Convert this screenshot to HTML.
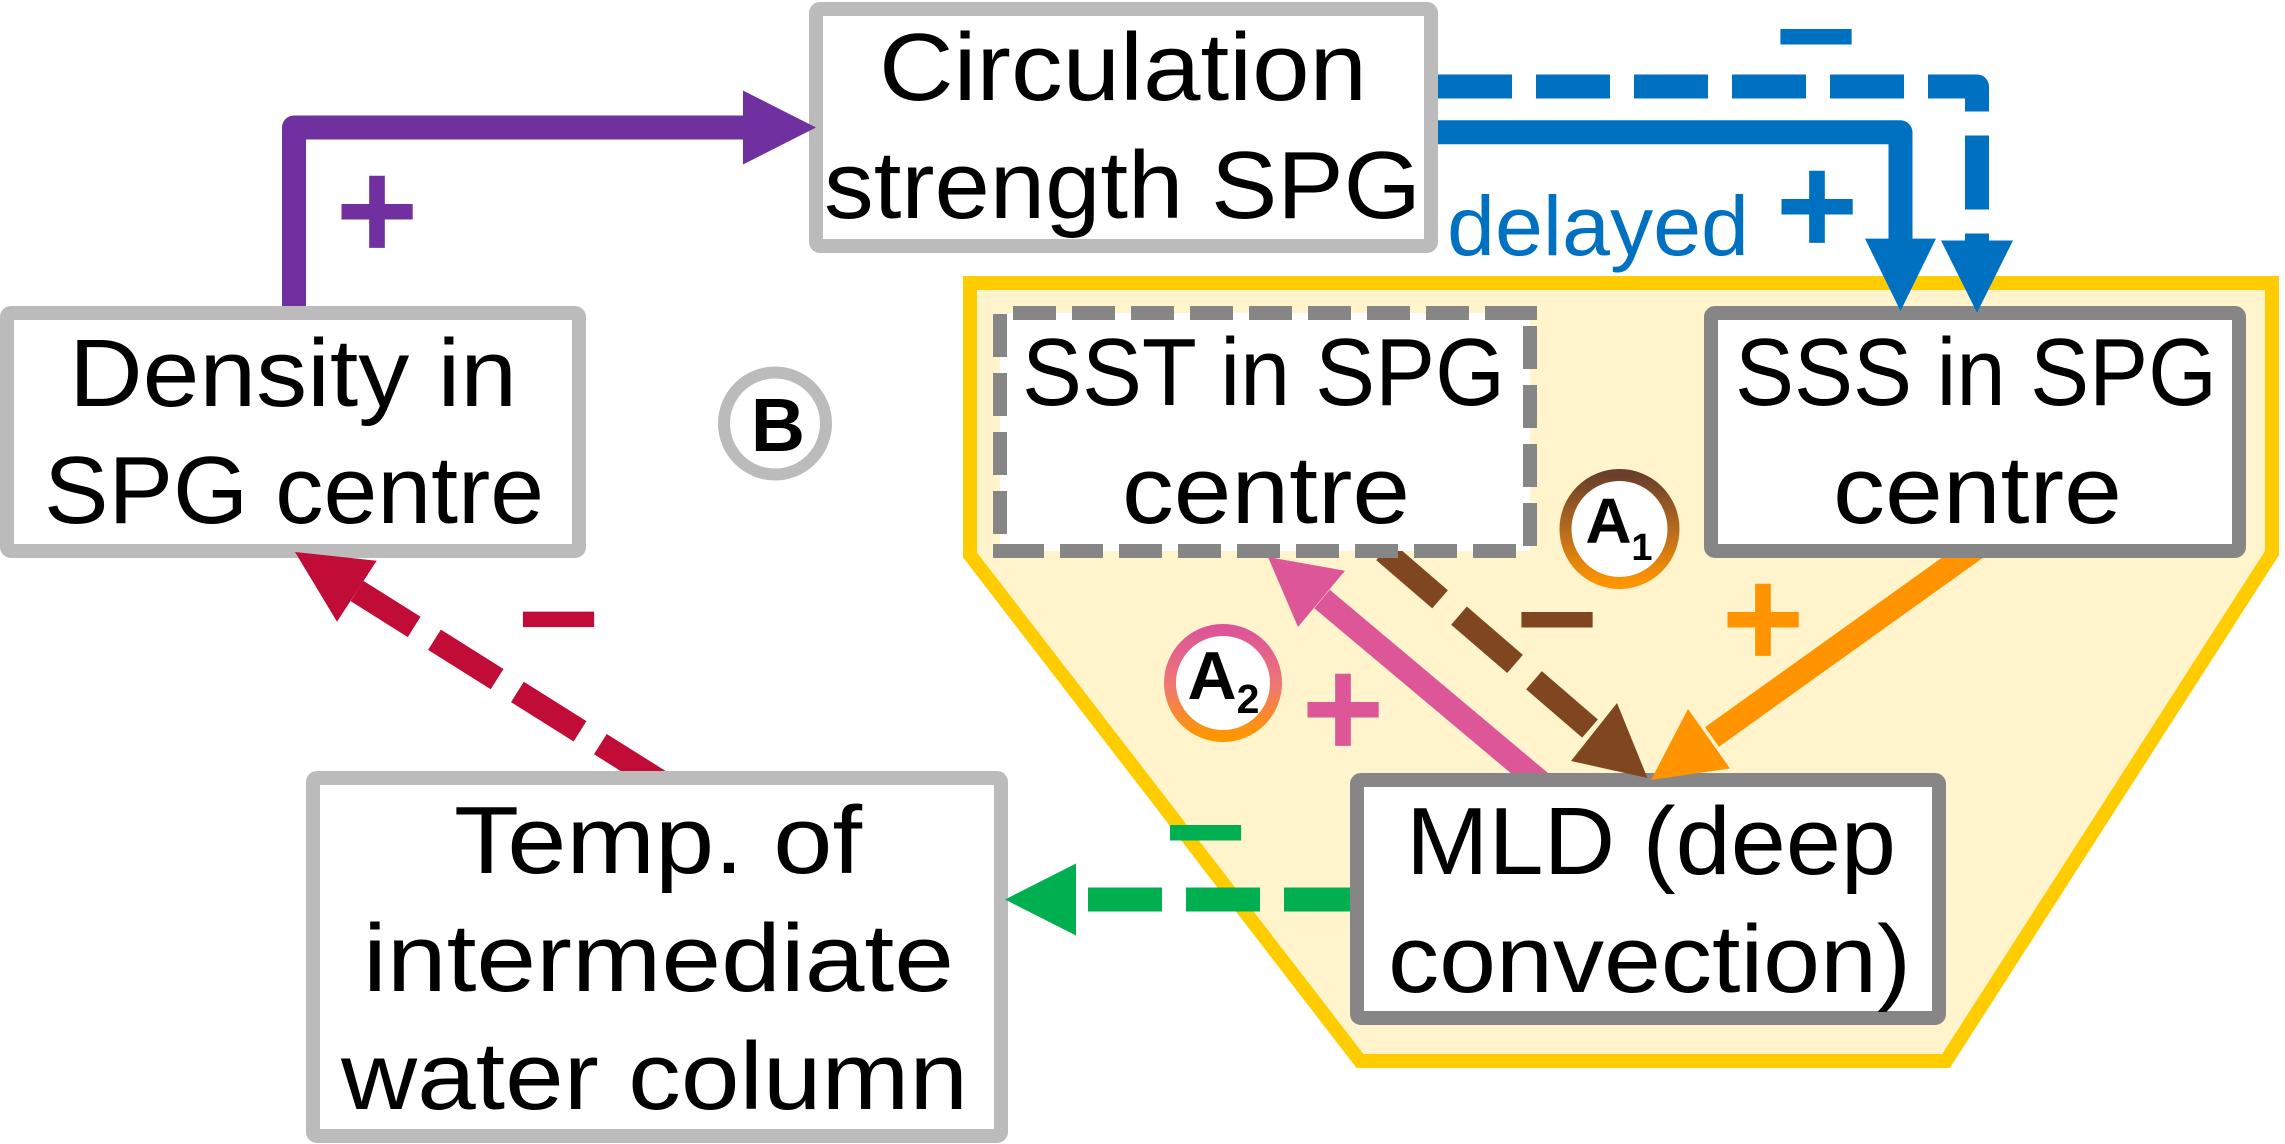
<!DOCTYPE html>
<html><head><meta charset="utf-8">
<style>
html,body{margin:0;padding:0;background:#fff;}
svg{display:block;}
text{font-family:"Liberation Sans",Arial,sans-serif;}
</style></head><body>
<svg width="2285" height="1144" viewBox="0 0 2285 1144" xmlns="http://www.w3.org/2000/svg">
<defs>
<linearGradient id="gA1" x1="0" y1="0" x2="0" y2="1">
<stop offset="0" stop-color="#6A3F2B"/><stop offset="0.5" stop-color="#B56A1E"/><stop offset="1" stop-color="#FF9400"/>
</linearGradient>
<linearGradient id="gA2" x1="0" y1="0" x2="0" y2="1">
<stop offset="0" stop-color="#DC5599"/><stop offset="0.5" stop-color="#EE7676"/><stop offset="1" stop-color="#FF9600"/>
</linearGradient>
</defs>
<rect width="2285" height="1144" fill="#fff"/>

<!-- yellow region -->
<polygon points="970,283 2272,283 2272,553 1946,1061 1360,1061 970,555" fill="#FFF4CC" stroke="#FFCC00" stroke-width="14"/>

<!-- shafts -->
<g fill="none" stroke-width="24">
<path d="M294,330 L294,127.5 L745,127.5" stroke="#7030A0" stroke-linejoin="round"/>
<path d="M1425,132.3 L1900.5,132.3 L1900.5,242" stroke="#0070C0" stroke-linejoin="round"/>
<path d="M1438,86.5 L1977,86.5 L1977,244" stroke="#0070C0" stroke-linejoin="round" stroke-dasharray="74 24"/>
<path d="M1976,548 L1712,737" stroke="#FF9400"/>
<path d="M1384,551 L1594,732" stroke="#80461F" stroke-dasharray="74 25"/>
<path d="M1540,782 L1322,599" stroke="#DD5698"/>
<path d="M663,783.5 L357,591" stroke="#C00C37" stroke-dasharray="74 24"/>
<path d="M1358,899.5 L1076,899.5" stroke="#00B050" stroke-dasharray="74 24"/>
</g>

<!-- boxes -->
<rect x="816" y="9" width="615" height="237" rx="4" fill="#fff" stroke="#BBBBBB" stroke-width="14"/>
<rect x="7" y="313" width="572" height="238" rx="4" fill="#fff" stroke="#BBBBBB" stroke-width="14"/>
<!-- SST dashed box -->
<rect x="1000" y="313" width="530" height="238" fill="#fff"/>
<g fill="none" stroke="#868686" stroke-width="14" stroke-dasharray="43 16">
<path d="M1013,313 L1530,313"/>
<path d="M1530,326 L1530,552"/>
<path d="M1516,551 L1001,551"/>
<path d="M1000,314 L1000,540"/>
</g>
<rect x="1523" y="306" width="14" height="14" fill="#868686"/>
<rect x="993" y="544" width="50" height="14" fill="#868686"/>

<rect x="1711" y="313" width="528" height="238" rx="4" fill="#fff" stroke="#868686" stroke-width="14"/>
<rect x="1357" y="780" width="582" height="238" rx="4" fill="#fff" stroke="#868686" stroke-width="14"/>
<rect x="313" y="778" width="688" height="358" rx="4" fill="#fff" stroke="#BBBBBB" stroke-width="14"/>

<!-- arrowheads -->
<polygon points="816,127.5 743,90.5 743,164.5" fill="#7030A0"/>
<polygon points="1900.5,311 1865,238.6 1936,238.6" fill="#0070C0"/>
<polygon points="1977,312.6 1941,240.5 2013,240.5" fill="#0070C0"/>
<polygon points="1651,780 1688,709 1730,768.5" fill="#FF9400"/>
<polygon points="1647.5,778 1571,761 1617,703" fill="#80461F"/>
<polygon points="1268,557 1345,570.7 1298,627" fill="#DD5698"/>
<polygon points="295,552 376.7,560.7 337,621.7" fill="#C00C37"/>
<polygon points="1005,899.5 1076,863.5 1076,935.5" fill="#00B050"/>

<!-- circles -->
<circle cx="775" cy="423.5" r="51" fill="#fff" stroke="#BBBBBB" stroke-width="12"/>
<circle cx="1619.5" cy="529" r="54" fill="#fff" stroke="url(#gA1)" stroke-width="12"/>
<circle cx="1223" cy="683" r="53" fill="#fff" stroke="url(#gA2)" stroke-width="12"/>

<!-- box text -->
<g font-size="96" fill="#000" text-anchor="middle">
<text x="1123" y="100" textLength="488" lengthAdjust="spacingAndGlyphs">Circulation</text>
<text x="1122.5" y="218" textLength="597" lengthAdjust="spacingAndGlyphs">strength SPG</text>
<text x="293" y="406" textLength="448" lengthAdjust="spacingAndGlyphs">Density in</text>
<text x="294" y="523" textLength="500" lengthAdjust="spacingAndGlyphs">SPG centre</text>
<text x="1263.5" y="405" textLength="483" lengthAdjust="spacingAndGlyphs">SST in SPG</text>
<text x="1266" y="523" textLength="288" lengthAdjust="spacingAndGlyphs">centre</text>
<text x="1976" y="405" textLength="482" lengthAdjust="spacingAndGlyphs">SSS in SPG</text>
<text x="1977.5" y="523" textLength="289" lengthAdjust="spacingAndGlyphs">centre</text>
<text x="1651" y="874" textLength="490" lengthAdjust="spacingAndGlyphs">MLD (deep</text>
<text x="1649.5" y="992" textLength="523" lengthAdjust="spacingAndGlyphs">convection)</text>
<text x="658" y="873" textLength="408" lengthAdjust="spacingAndGlyphs">Temp. of</text>
<text x="658.5" y="991" textLength="591" lengthAdjust="spacingAndGlyphs">intermediate</text>
<text x="654.5" y="1109" textLength="627" lengthAdjust="spacingAndGlyphs">water column</text>
</g>
<text x="1598" y="255" font-size="84" fill="#0070C0" text-anchor="middle" textLength="302" lengthAdjust="spacingAndGlyphs">delayed</text>

<!-- circle labels -->
<g font-weight="bold" fill="#000" text-anchor="middle">
<text x="778" y="451" font-size="75">B</text>
<text x="1608.5" y="543" font-size="64">A</text>
<text x="1642" y="560" font-size="38">1</text>
<text x="1212" y="699" font-size="68">A</text>
<text x="1248" y="713" font-size="41">2</text>
</g>

<!-- signs -->
<g font-weight="bold" font-size="142" text-anchor="middle">
<text x="377" y="259" fill="#7030A0">+</text>
<text x="1816" y="84" fill="#0070C0">−</text>
<text x="1817" y="254" fill="#0070C0">+</text>
<text x="1763" y="667" fill="#FF9400">+</text>
<text x="1557" y="667" fill="#80461F">−</text>
<text x="1343" y="757" fill="#DD5698">+</text>
<text x="558.5" y="666.6" fill="#C00C37">−</text>
<text x="1205.5" y="880" fill="#00B050">−</text>
</g>
</svg>
</body></html>
